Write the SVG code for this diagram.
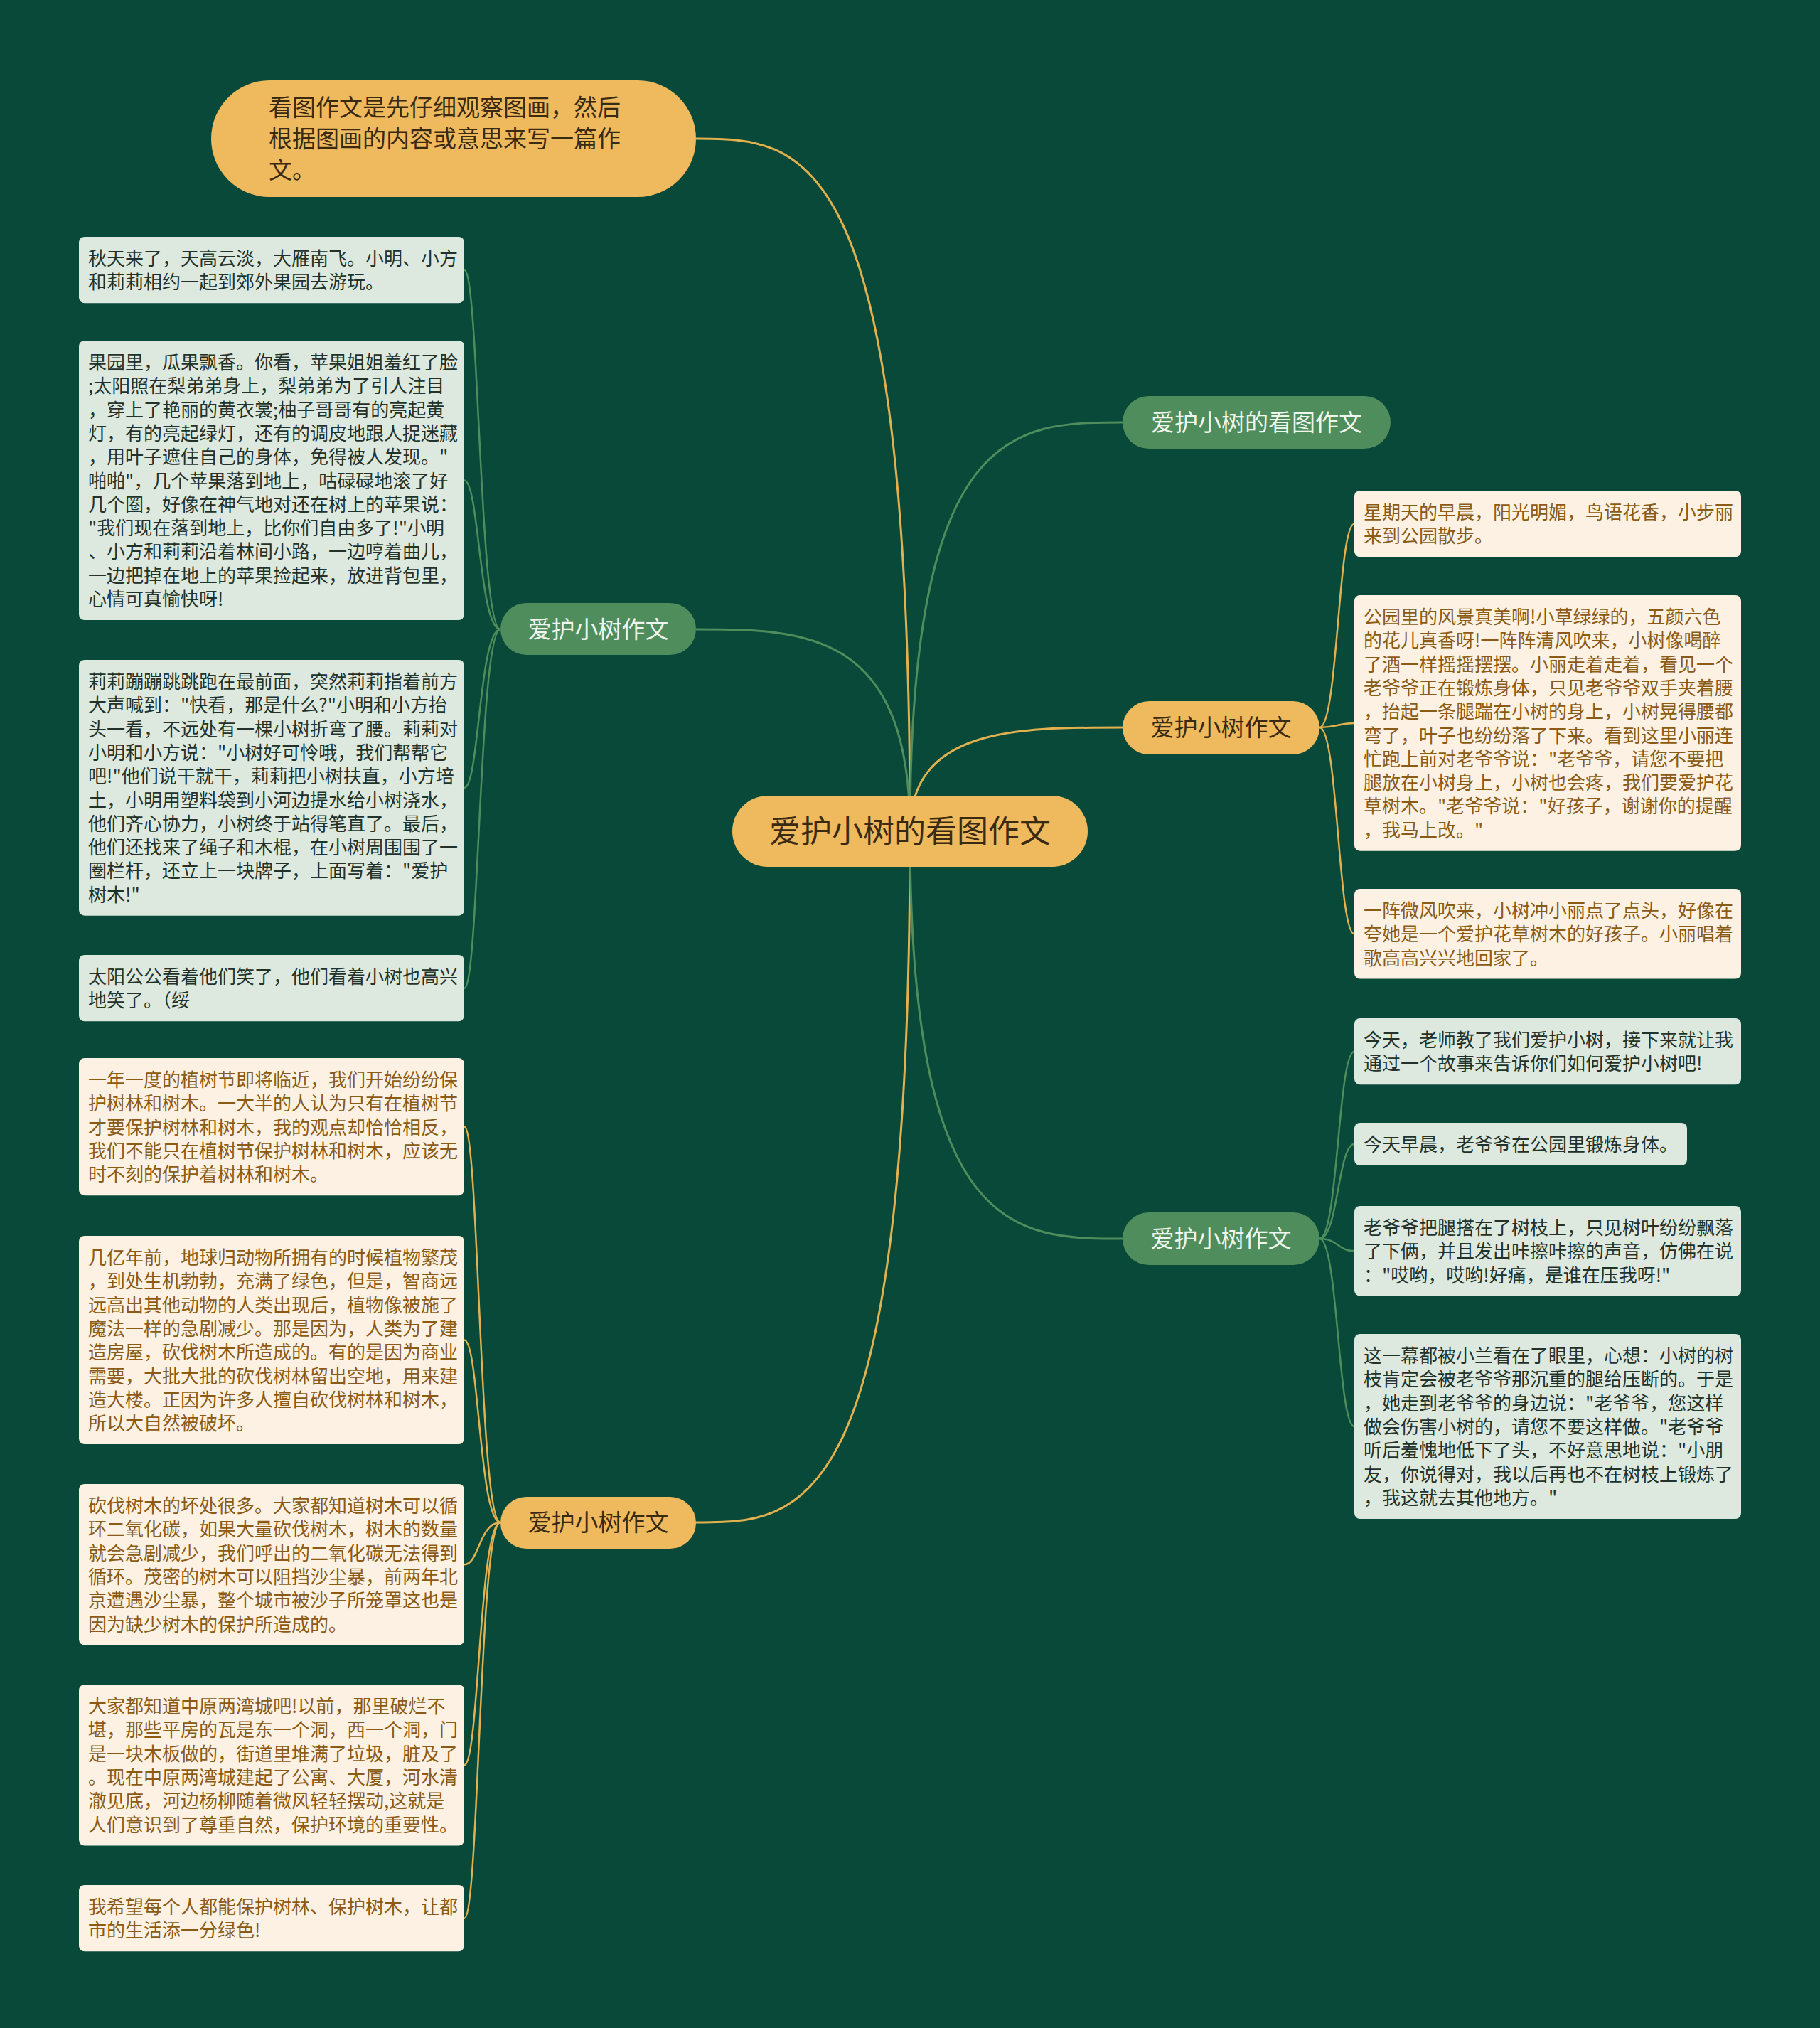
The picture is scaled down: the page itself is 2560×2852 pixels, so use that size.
<svg xmlns="http://www.w3.org/2000/svg" width="2560" height="2852" viewBox="0 0 2560 2852">
<style>
text{font-family:"Noto Sans CJK SC","Noto Sans",sans-serif;dominant-baseline:central;transform:translate(0px,-2px)}
.lg rect{fill:#dde9df}
.lg text{fill:#22322a;font-size:26px}
.lc rect{fill:#fcf1e3}
.lc text{fill:#8b5a14;font-size:26px}
.on rect{fill:#efb95e}
.on text{fill:#3a2a12}
.gn rect{fill:#4f8d5c}
.gn text{fill:#eef6ee}
.bn text{font-size:33px;text-anchor:middle}
.co{fill:none;stroke:#e2b04e;stroke-width:3}
.cg{fill:none;stroke:#4f8d5c;stroke-width:3}
.so{fill:none;stroke:#e2b04e;stroke-width:2.5}
.sg{fill:none;stroke:#4f8d5c;stroke-width:2.5}
</style>
<rect x="0" y="0" width="2560" height="2852" fill="#08493a"/>
<g id="connectors">
<path class="co" d="M1280 1169 C1280 195 1129.5 195 979 195"/>
<path class="cg" d="M1280 1169 C1280 885 1129.5 885 979 885"/>
<path class="co" d="M1280 1169 C1280 2141 1129.5 2141 979 2141"/>
<path class="cg" d="M1280 1169 C1280 594 1429.5 594 1579 594"/>
<path class="co" d="M1280 1169 C1280 1023 1429.5 1023 1579 1023"/>
<path class="cg" d="M1280 1169 C1280 1742 1429.5 1742 1579 1742"/>
<path class="sg" d="M704 885 C674 885 674 379.7 653 379.7"/>
<path class="sg" d="M704 885 C674 885 674 675.5 653 675.5"/>
<path class="sg" d="M704 885 C674 885 674 1107.9 653 1107.9"/>
<path class="sg" d="M704 885 C674 885 674 1389.7 653 1389.7"/>
<path class="so" d="M704 2141 C674 2141 674 1584.6 653 1584.6"/>
<path class="so" d="M704 2141 C674 2141 674 1884.5 653 1884.5"/>
<path class="so" d="M704 2141 C674 2141 674 2200.3 653 2200.3"/>
<path class="so" d="M704 2141 C674 2141 674 2482.3 653 2482.3"/>
<path class="so" d="M704 2141 C674 2141 674 2697.7 653 2697.7"/>
<path class="so" d="M1856 1023 C1882 1023 1882 736.7 1905 736.7"/>
<path class="so" d="M1856 1023 C1882 1023 1882 1016.9 1905 1016.9"/>
<path class="so" d="M1856 1023 C1882 1023 1882 1313.3 1905 1313.3"/>
<path class="sg" d="M1856 1742 C1882 1742 1882 1478.7 1905 1478.7"/>
<path class="sg" d="M1856 1742 C1882 1742 1882 1609 1905 1609"/>
<path class="sg" d="M1856 1742 C1882 1742 1882 1759.3 1905 1759.3"/>
<path class="sg" d="M1856 1742 C1882 1742 1882 2006 1905 2006"/>
</g>
<g id="center" class="on">
<rect x="1030" y="1119" width="500" height="100" rx="50"/>
<text x="1280" y="1168" font-size="44" text-anchor="middle">爱护小树的看图作文</text>
</g>
<g id="top-note" class="on">
<rect x="297" y="113" width="682" height="164" rx="82"/>
<text font-size="33"><tspan x="378" y="151">看图作文是先仔细观察图画，然后</tspan><tspan x="378" dy="44">根据图画的内容或意思来写一篇作</tspan><tspan x="378" dy="44">文。</tspan></text>
</g>
<g id="branch-left-1" class="gn bn">
<rect x="704" y="848" width="275" height="73" rx="36.5"/>
<text x="841.5" y="885">爱护小树作文</text>
</g>
<g id="branch-left-2" class="on bn">
<rect x="704" y="2105" width="275" height="73" rx="36.5"/>
<text x="841.5" y="2141">爱护小树作文</text>
</g>
<g id="branch-right-1" class="gn bn">
<rect x="1579" y="557" width="377" height="74" rx="37"/>
<text x="1767.5" y="594">爱护小树的看图作文</text>
</g>
<g id="branch-right-2" class="on bn">
<rect x="1579" y="986" width="277" height="75" rx="37.5"/>
<text x="1717.5" y="1023">爱护小树作文</text>
</g>
<g id="branch-right-3" class="gn bn">
<rect x="1579" y="1705" width="277" height="74" rx="37"/>
<text x="1717.5" y="1742">爱护小树作文</text>
</g>
<g id="leaf-l1" class="lg">
<rect x="111" y="333" width="542" height="93.3" rx="8"/>
<text y="363"><tspan x="124">秋天来了，天高云淡，大雁南飞。小明、小方</tspan><tspan x="124" dy="33.3">和莉莉相约一起到郊外果园去游玩。</tspan></text>
</g>
<g id="leaf-l2" class="lg">
<rect x="111" y="479" width="542" height="393" rx="8"/>
<text y="509"><tspan x="124">果园里，瓜果飘香。你看，苹果姐姐羞红了脸</tspan><tspan x="124" dy="33.3">;太阳照在梨弟弟身上，梨弟弟为了引人注目</tspan><tspan x="124" dy="33.3">，穿上了艳丽的黄衣裳;柚子哥哥有的亮起黄</tspan><tspan x="124" dy="33.3">灯，有的亮起绿灯，还有的调皮地跟人捉迷藏</tspan><tspan x="124" dy="33.3">，用叶子遮住自己的身体，免得被人发现。"</tspan><tspan x="124" dy="33.3">啪啪"，几个苹果落到地上，咕碌碌地滚了好</tspan><tspan x="124" dy="33.3">几个圈，好像在神气地对还在树上的苹果说：</tspan><tspan x="124" dy="33.3">"我们现在落到地上，比你们自由多了!"小明</tspan><tspan x="124" dy="33.3">、小方和莉莉沿着林间小路，一边哼着曲儿，</tspan><tspan x="124" dy="33.3">一边把掉在地上的苹果捡起来，放进背包里，</tspan><tspan x="124" dy="33.3">心情可真愉快呀!</tspan></text>
</g>
<g id="leaf-l3" class="lg">
<rect x="111" y="928" width="542" height="359.7" rx="8"/>
<text y="958"><tspan x="124">莉莉蹦蹦跳跳跑在最前面，突然莉莉指着前方</tspan><tspan x="124" dy="33.3">大声喊到："快看，那是什么?"小明和小方抬</tspan><tspan x="124" dy="33.3">头一看，不远处有一棵小树折弯了腰。莉莉对</tspan><tspan x="124" dy="33.3">小明和小方说："小树好可怜哦，我们帮帮它</tspan><tspan x="124" dy="33.3">吧!"他们说干就干，莉莉把小树扶直，小方培</tspan><tspan x="124" dy="33.3">土，小明用塑料袋到小河边提水给小树浇水，</tspan><tspan x="124" dy="33.3">他们齐心协力，小树终于站得笔直了。最后，</tspan><tspan x="124" dy="33.3">他们还找来了绳子和木棍，在小树周围围了一</tspan><tspan x="124" dy="33.3">圈栏杆，还立上一块牌子，上面写着："爱护</tspan><tspan x="124" dy="33.3">树木!"</tspan></text>
</g>
<g id="leaf-l4" class="lg">
<rect x="111" y="1343" width="542" height="93.3" rx="8"/>
<text y="1373"><tspan x="124">太阳公公看着他们笑了，他们看着小树也高兴</tspan><tspan x="124" dy="33.3">地笑了。（绥</tspan></text>
</g>
<g id="leaf-a" class="lc">
<rect x="111" y="1488" width="542" height="193.2" rx="8"/>
<text y="1518"><tspan x="124">一年一度的植树节即将临近，我们开始纷纷保</tspan><tspan x="124" dy="33.3">护树林和树木。一大半的人认为只有在植树节</tspan><tspan x="124" dy="33.3">才要保护树林和树木，我的观点却恰恰相反，</tspan><tspan x="124" dy="33.3">我们不能只在植树节保护树林和树木，应该无</tspan><tspan x="124" dy="33.3">时不刻的保护着树林和树木。</tspan></text>
</g>
<g id="leaf-b" class="lc">
<rect x="111" y="1738" width="542" height="293" rx="8"/>
<text y="1768"><tspan x="124">几亿年前，地球归动物所拥有的时候植物繁茂</tspan><tspan x="124" dy="33.3">，到处生机勃勃，充满了绿色，但是，智商远</tspan><tspan x="124" dy="33.3">远高出其他动物的人类出现后，植物像被施了</tspan><tspan x="124" dy="33.3">魔法一样的急剧减少。那是因为，人类为了建</tspan><tspan x="124" dy="33.3">造房屋，砍伐树木所造成的。有的是因为商业</tspan><tspan x="124" dy="33.3">需要，大批大批的砍伐树林留出空地，用来建</tspan><tspan x="124" dy="33.3">造大楼。正因为许多人擅自砍伐树林和树木，</tspan><tspan x="124" dy="33.3">所以大自然被破坏。</tspan></text>
</g>
<g id="leaf-c" class="lc">
<rect x="111" y="2087" width="542" height="226.5" rx="8"/>
<text y="2117"><tspan x="124">砍伐树木的坏处很多。大家都知道树木可以循</tspan><tspan x="124" dy="33.3">环二氧化碳，如果大量砍伐树木，树木的数量</tspan><tspan x="124" dy="33.3">就会急剧减少，我们呼出的二氧化碳无法得到</tspan><tspan x="124" dy="33.3">循环。茂密的树木可以阻挡沙尘暴，前两年北</tspan><tspan x="124" dy="33.3">京遭遇沙尘暴，整个城市被沙子所笼罩这也是</tspan><tspan x="124" dy="33.3">因为缺少树木的保护所造成的。</tspan></text>
</g>
<g id="leaf-d" class="lc">
<rect x="111" y="2369" width="542" height="226.5" rx="8"/>
<text y="2399"><tspan x="124">大家都知道中原两湾城吧!以前，那里破烂不</tspan><tspan x="124" dy="33.3">堪，那些平房的瓦是东一个洞，西一个洞，门</tspan><tspan x="124" dy="33.3">是一块木板做的，街道里堆满了垃圾，脏及了</tspan><tspan x="124" dy="33.3">。现在中原两湾城建起了公寓、大厦，河水清</tspan><tspan x="124" dy="33.3">澈见底，河边杨柳随着微风轻轻摆动,这就是</tspan><tspan x="124" dy="33.3">人们意识到了尊重自然，保护环境的重要性。</tspan></text>
</g>
<g id="leaf-e" class="lc">
<rect x="111" y="2651" width="542" height="93.3" rx="8"/>
<text y="2681"><tspan x="124">我希望每个人都能保护树林、保护树木，让都</tspan><tspan x="124" dy="33.3">市的生活添一分绿色!</tspan></text>
</g>
<g id="leaf-r1" class="lc">
<rect x="1905" y="690" width="544" height="93.3" rx="8"/>
<text y="720"><tspan x="1918">星期天的早晨，阳光明媚，鸟语花香，小步丽</tspan><tspan x="1918" dy="33.3">来到公园散步。</tspan></text>
</g>
<g id="leaf-r2" class="lc">
<rect x="1905" y="837" width="544" height="359.7" rx="8"/>
<text y="867"><tspan x="1918">公园里的风景真美啊!小草绿绿的，五颜六色</tspan><tspan x="1918" dy="33.3">的花儿真香呀!一阵阵清风吹来，小树像喝醉</tspan><tspan x="1918" dy="33.3">了酒一样摇摇摆摆。小丽走着走着，看见一个</tspan><tspan x="1918" dy="33.3">老爷爷正在锻炼身体，只见老爷爷双手夹着腰</tspan><tspan x="1918" dy="33.3">，抬起一条腿踹在小树的身上，小树晃得腰都</tspan><tspan x="1918" dy="33.3">弯了，叶子也纷纷落了下来。看到这里小丽连</tspan><tspan x="1918" dy="33.3">忙跑上前对老爷爷说："老爷爷，请您不要把</tspan><tspan x="1918" dy="33.3">腿放在小树身上，小树也会疼，我们要爱护花</tspan><tspan x="1918" dy="33.3">草树木。"老爷爷说："好孩子，谢谢你的提醒</tspan><tspan x="1918" dy="33.3">，我马上改。"</tspan></text>
</g>
<g id="leaf-r3" class="lc">
<rect x="1905" y="1250" width="544" height="126.6" rx="8"/>
<text y="1280"><tspan x="1918">一阵微风吹来，小树冲小丽点了点头，好像在</tspan><tspan x="1918" dy="33.3">夸她是一个爱护花草树木的好孩子。小丽唱着</tspan><tspan x="1918" dy="33.3">歌高高兴兴地回家了。</tspan></text>
</g>
<g id="leaf-g1" class="lg">
<rect x="1905" y="1432" width="544" height="93.3" rx="8"/>
<text y="1462"><tspan x="1918">今天，老师教了我们爱护小树，接下来就让我</tspan><tspan x="1918" dy="33.3">通过一个故事来告诉你们如何爱护小树吧!</tspan></text>
</g>
<g id="leaf-g2" class="lg">
<rect x="1905" y="1579" width="468" height="60" rx="8"/>
<text y="1609"><tspan x="1918">今天早晨，老爷爷在公园里锻炼身体。</tspan></text>
</g>
<g id="leaf-g3" class="lg">
<rect x="1905" y="1696" width="544" height="126.6" rx="8"/>
<text y="1726"><tspan x="1918">老爷爷把腿搭在了树枝上，只见树叶纷纷飘落</tspan><tspan x="1918" dy="33.3">了下俩，并且发出咔擦咔擦的声音，仿佛在说</tspan><tspan x="1918" dy="33.3">："哎哟，哎哟!好痛，是谁在压我呀!"</tspan></text>
</g>
<g id="leaf-g4" class="lg">
<rect x="1905" y="1876" width="544" height="260" rx="8"/>
<text y="1906"><tspan x="1918">这一幕都被小兰看在了眼里，心想：小树的树</tspan><tspan x="1918" dy="33.3">枝肯定会被老爷爷那沉重的腿给压断的。于是</tspan><tspan x="1918" dy="33.3">，她走到老爷爷的身边说："老爷爷，您这样</tspan><tspan x="1918" dy="33.3">做会伤害小树的，请您不要这样做。"老爷爷</tspan><tspan x="1918" dy="33.3">听后羞愧地低下了头，不好意思地说："小朋</tspan><tspan x="1918" dy="33.3">友，你说得对，我以后再也不在树枝上锻炼了</tspan><tspan x="1918" dy="33.3">，我这就去其他地方。"</tspan></text>
</g>
</svg>
